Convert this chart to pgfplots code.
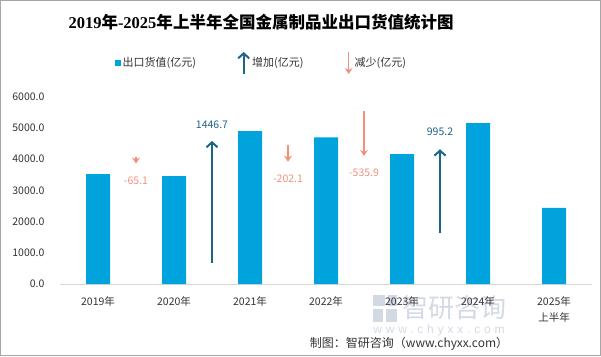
\documentclass[border=0pt]{standalone}
\usepackage{pgfplots}
\pgfplotsset{compat=1.18}
\usepackage{pgfplotstable}
\usetikzlibrary{arrows.meta}
\usepackage{fontspec}
\setmainfont{Noto Sans CJK SC}
\newfontfamily\serifdig{Liberation Serif}
\newfontfamily\wmfont{Liberation Sans}[LetterSpace=32]
\definecolor{barc}{HTML}{00A3DB}
\definecolor{upc}{HTML}{1B6587}
\definecolor{downc}{HTML}{F3907B}
\definecolor{wmc}{HTML}{D3D9E3}
\definecolor{framec}{HTML}{A6A6A6}
\definecolor{axc}{HTML}{D9D9D9}
\definecolor{txt}{HTML}{333333}

\pgfplotstableread{
x y
0 3517
1 3452
2 4899
3 4697
4 4161
5 5156
6 2436
}\bardata

\tikzset{
  upar/.style={upc, line width=2pt, -{Straight Barb[length=5pt,width=11pt]}},
  downar/.style={downc, line width=1.6pt, -{Stealth[length=6pt,width=8pt,inset=2pt]}},
}

\begin{document}
\begin{tikzpicture}
\useasboundingbox (0pt,0pt) rectangle (601pt,356pt);
\draw[framec, line width=1pt] (0.5pt,0.5pt) rectangle (600.5pt,355.5pt);
% watermark
\fill[wmc] (373pt,50pt) rectangle (385pt,61pt);
\fill[wmc] (388pt,50pt) rectangle (397pt,61pt);
\fill[wmc] (373pt,34pt) rectangle (383pt,47pt);
\fill[wmc] (386pt,34pt) rectangle (397pt,47pt);
\node[wmc, font=\fontsize{26}{26}\selectfont] at (454pt,48pt) {智研咨询};
\node[wmc, font=\wmfont\fontsize{12}{12}\selectfont] at (439pt,26pt) {www.chyxx.com};
% title
\node[font=\fontsize{16.5}{16.5}\selectfont\bfseries, text=black] at (261pt,334pt)
  {{\serifdig\bfseries 2019}年{\serifdig\bfseries -2025}年上半年全国金属制品业出口货值统计图};
% source
\node[font=\fontsize{12}{12}\selectfont, text=txt] at (409pt,12pt) {制图：智研咨询（www.chyxx.com）};

\begin{axis}[
  at={(60pt,72pt)}, anchor=south west,
  scale only axis, width=532pt, height=187.3pt,
  xmin=-0.5, xmax=6.5, ymin=0, ymax=6000,
  clip=false,
  axis lines*=left,
  x axis line style={draw=axc, line width=1pt, -},
  y axis line style={draw=none},
  major tick length=0pt,
  xtick={0,...,6},
  xticklabels={2019年,2020年,2021年,2022年,2023年,2024年,{2025年\\上半年}},
  xticklabel style={align=center, yshift=-9.5pt, font=\fontsize{10.5}{16}\selectfont, text=txt},
  ytick={0,1000,...,6000},
  scaled y ticks=false,
  yticklabel style={xshift=-12pt, font=\fontsize{10.5}{12}\selectfont, text=txt,
    /pgf/number format/.cd, fixed, fixed zerofill, precision=1, 1000 sep={}, assume math mode=true},
  legend style={at={(0.379,1.18)}, anchor=center, draw=none, fill=none,
    font=\fontsize{11}{12}\selectfont, text=txt,
    /tikz/every even column/.append style={column sep=39pt}},
  legend columns=3,
  legend cell align=left,
]
\addplot[ybar, bar width=24pt, bar shift=0pt, fill=barc, draw=none,
  legend image code/.code={\fill[barc] (0pt,-2.75pt) rectangle (5.5pt,2.75pt);}]
  table[x=x,y=y]{\bardata};
\addlegendentry{出口货值(亿元)}
\addplot[upar, legend image code/.code={\draw[upar] (0pt,-11pt) -- (0pt,11pt);}]
  coordinates {(1.5,673) (1.5,4583)} node[pos=1, yshift=16pt, text=upc, font=\fontsize{10.5}{12}\selectfont] {1446.7};
\addlegendentry{增加(亿元)}
\addplot[downar, legend image code/.code={\draw[downar] (0pt,11pt) -- (0pt,-11pt);}]
  coordinates {(0.5,4070) (0.5,3860)} node[pos=1, yshift=-17pt, text=downc, font=\fontsize{10.5}{12}\selectfont] {-65.1};
\addlegendentry{减少(亿元)}
\addplot[upar, forget plot]
  coordinates {(4.5,1644) (4.5,4317)} node[pos=1, yshift=17pt, text=upc, font=\fontsize{10.5}{12}\selectfont] {995.2};
\addplot[downar, forget plot]
  coordinates {(2.5,4455) (2.5,3920)} node[pos=1, yshift=-17pt, text=downc, font=\fontsize{10.5}{12}\selectfont] {-202.1};
\addplot[downar, forget plot]
  coordinates {(3.5,5545) (3.5,4103)} node[pos=1, yshift=-17pt, text=downc, font=\fontsize{10.5}{12}\selectfont] {-535.9};
\end{axis}
\end{tikzpicture}
\end{document}
